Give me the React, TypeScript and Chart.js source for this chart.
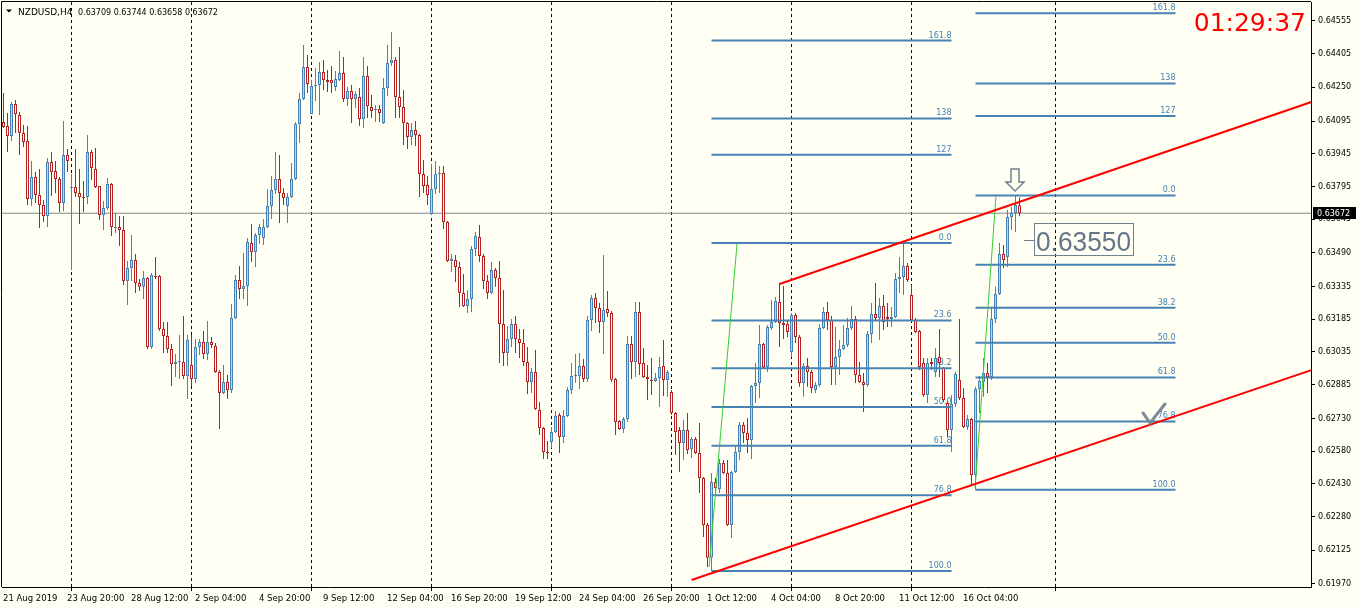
import React, { useEffect, useRef } from "react";
import { Chart, registerables } from "chart.js";

Chart.register(...registerables);

const symbolTitle = "NZDUSD,H4";
const timerText = "01:29:37";
const priceLabelText = "0.63550";
const priceLabelValue = 0.6355;
const bidPrice = 0.63672;

const opens = [
  0.64091,0.64073,0.64027,0.64174,0.64123,0.64040,0.64004,0.63737,0.63838,0.63756,
  0.63710,0.63659,0.63907,0.63866,0.63829,0.63719,0.63939,0.63788,0.63793,0.63765,
  0.63747,0.63747,0.63953,0.63875,0.63797,0.63664,0.63696,0.63806,0.63604,0.63609,
  0.63595,0.63361,0.63421,0.63457,0.63352,0.63334,0.63375,0.63058,0.63384,0.63384,
  0.63141,0.63108,0.63049,0.62980,0.62989,0.62989,0.62925,0.62975,0.62911,0.63058,
  0.63081,0.63026,0.63081,0.63063,0.62943,0.62847,0.62897,0.62861,0.63191,0.63366,
  0.63324,0.63338,0.63535,0.63494,0.63572,0.63558,0.63609,0.63705,0.63779,0.63829,
  0.63765,0.63705,0.63747,0.63829,0.64082,0.64197,0.64343,0.64128,0.64256,0.64261,
  0.64320,0.64284,0.64284,0.64252,0.64284,0.64316,0.64197,0.64233,0.64197,0.64206,
  0.64105,0.64302,0.64160,0.64146,0.64151,0.64086,0.64247,0.64362,0.64376,0.64206,
  0.64160,0.64086,0.64022,0.64054,0.64031,0.63852,0.63802,0.63668,0.63783,0.63852,
  0.63857,0.63632,0.63453,0.63457,0.63425,0.63306,0.63246,0.63278,0.63508,0.63563,
  0.63476,0.63361,0.63306,0.63412,0.63375,0.63163,0.63030,0.63095,0.63163,0.63095,
  0.63076,0.62989,0.62897,0.62943,0.62769,0.62686,0.62576,0.62622,0.62668,0.62746,
  0.62645,0.62741,0.62861,0.62925,0.62925,0.62971,0.62911,0.63182,0.63283,0.63237,
  0.63173,0.63232,0.63214,0.62911,0.62718,0.62682,0.62727,0.63072,0.62989,0.63219,
  0.62984,0.62920,0.62906,0.62902,0.62916,0.62971,0.62906,0.62851,0.62755,0.62677,
  0.62617,0.62677,0.62590,0.62636,0.62571,0.62456,0.62241,0.62090,0.62438,0.62406,
  0.62525,0.62479,0.62241,0.62484,0.62576,0.62700,0.62663,0.62631,0.62879,0.62893,
  0.63072,0.62966,0.63145,0.63173,0.63264,0.63168,0.63163,0.63035,0.63205,0.63104,
  0.62893,0.62971,0.62943,0.62861,0.62884,0.63145,0.63219,0.63182,0.62966,0.63012,
  0.63049,0.63067,0.63145,0.63187,0.62929,0.62897,0.62884,0.63118,0.63209,0.63191,
  0.63246,0.63196,0.63187,0.63196,0.63370,0.63379,0.63430,0.63297,0.63182,0.63131,
  0.62984,0.62838,0.62989,0.62943,0.63012,0.62961,0.62801,0.62677,0.62796,0.62906,
  0.62824,0.62691,0.62727,0.62470,0.62865,0.62897,0.62939,0.62920,0.63187,0.63301,
  0.63485,0.63471,0.63655,0.63673,0.63709,
];

const highs = [
  0.64224,0.64132,0.64183,0.64192,0.64137,0.64077,0.64073,0.63912,0.63861,0.63875,
  0.63733,0.63926,0.63953,0.63912,0.63838,0.64096,0.63967,0.63852,0.63967,0.63875,
  0.63820,0.64031,0.63962,0.63972,0.63797,0.63728,0.63834,0.63811,0.63673,0.63659,
  0.63659,0.63453,0.63572,0.63485,0.63370,0.63407,0.63379,0.63398,0.63471,0.63389,
  0.63173,0.63173,0.63072,0.63026,0.63113,0.63200,0.63113,0.63113,0.63095,0.63095,
  0.63131,0.63177,0.63104,0.63076,0.62952,0.62975,0.62929,0.63255,0.63389,0.63430,
  0.63490,0.63558,0.63623,0.63581,0.63623,0.63646,0.63783,0.63843,0.63953,0.63939,
  0.63788,0.63765,0.63903,0.64091,0.64224,0.64444,0.64398,0.64284,0.64339,0.64366,
  0.64376,0.64330,0.64348,0.64325,0.64417,0.64389,0.64252,0.64261,0.64233,0.64247,
  0.64389,0.64348,0.64215,0.64169,0.64169,0.64293,0.64444,0.64504,0.64389,0.64435,
  0.64238,0.64091,0.64086,0.64096,0.64036,0.63916,0.63843,0.63898,0.63912,0.63889,
  0.63889,0.63636,0.63485,0.63480,0.63448,0.63393,0.63320,0.63522,0.63586,0.63618,
  0.63485,0.63389,0.63448,0.63421,0.63453,0.63320,0.63154,0.63187,0.63200,0.63141,
  0.63141,0.63058,0.62962,0.63044,0.62805,0.62691,0.62626,0.62691,0.62764,0.62755,
  0.62769,0.62874,0.62984,0.63026,0.63030,0.63003,0.63200,0.63297,0.63306,0.63260,
  0.63480,0.63315,0.63223,0.62916,0.62723,0.62737,0.63108,0.63108,0.63264,0.63264,
  0.63053,0.62975,0.63007,0.62939,0.63012,0.63090,0.62952,0.62861,0.62760,0.62691,
  0.62723,0.62755,0.62645,0.62645,0.62709,0.62461,0.62250,0.62480,0.62456,0.62544,
  0.62539,0.62539,0.62489,0.62604,0.62714,0.62714,0.62732,0.62884,0.62984,0.63159,
  0.63076,0.63159,0.63274,0.63287,0.63352,0.63338,0.63182,0.63214,0.63214,0.63113,
  0.62984,0.63007,0.62952,0.62897,0.63163,0.63242,0.63264,0.63200,0.63150,0.63090,
  0.63159,0.63191,0.63246,0.63200,0.62989,0.62939,0.63131,0.63260,0.63352,0.63283,
  0.63297,0.63260,0.63242,0.63398,0.63471,0.63535,0.63444,0.63343,0.63191,0.63136,
  0.63007,0.63007,0.63007,0.63053,0.63141,0.62966,0.62810,0.62838,0.62943,0.63187,
  0.62870,0.62746,0.62732,0.62875,0.62925,0.63007,0.62984,0.63242,0.63334,0.63535,
  0.63526,0.63687,0.63701,0.63756,0.63744,
];

const lows = [
  0.64063,0.63953,0.64004,0.64040,0.63939,0.63976,0.63710,0.63705,0.63719,0.63604,
  0.63632,0.63609,0.63751,0.63765,0.63678,0.63682,0.63861,0.63412,0.63747,0.63623,
  0.63678,0.63714,0.63825,0.63788,0.63641,0.63595,0.63687,0.63568,0.63581,0.63522,
  0.63343,0.63251,0.63361,0.63306,0.63315,0.63278,0.63049,0.63049,0.63370,0.63131,
  0.63030,0.63030,0.62879,0.62920,0.62911,0.62911,0.62819,0.62879,0.62893,0.63021,
  0.63003,0.62998,0.63053,0.62939,0.62682,0.62842,0.62819,0.62847,0.63187,0.63278,
  0.63278,0.63246,0.63448,0.63425,0.63531,0.63526,0.63604,0.63646,0.63760,0.63627,
  0.63710,0.63627,0.63742,0.63825,0.63995,0.64192,0.64224,0.64128,0.64187,0.64123,
  0.64238,0.64229,0.64224,0.64233,0.64279,0.64183,0.64164,0.64086,0.64155,0.64073,
  0.64063,0.64109,0.64109,0.64091,0.64091,0.64082,0.64210,0.64348,0.64109,0.64109,
  0.63985,0.63967,0.63985,0.63981,0.63747,0.63765,0.63710,0.63664,0.63760,0.63765,
  0.63600,0.63448,0.63402,0.63356,0.63242,0.63242,0.63214,0.63219,0.63476,0.63448,
  0.63324,0.63278,0.63301,0.63334,0.62984,0.62971,0.62971,0.63058,0.63030,0.63007,
  0.62971,0.62842,0.62847,0.62769,0.62654,0.62544,0.62544,0.62594,0.62663,0.62571,
  0.62617,0.62737,0.62842,0.62893,0.62865,0.62897,0.62897,0.63131,0.63168,0.63122,
  0.63026,0.63196,0.62897,0.62654,0.62677,0.62663,0.62714,0.62911,0.62920,0.62929,
  0.62916,0.62815,0.62838,0.62897,0.62782,0.62833,0.62829,0.62746,0.62562,0.62484,
  0.62539,0.62567,0.62548,0.62567,0.62388,0.62186,0.62048,0.62030,0.62388,0.62388,
  0.62475,0.62236,0.62181,0.62479,0.62539,0.62617,0.62571,0.62544,0.62801,0.62824,
  0.62961,0.62943,0.63136,0.63168,0.63058,0.63095,0.63104,0.63012,0.63076,0.62875,
  0.62829,0.62875,0.62847,0.62847,0.62875,0.63141,0.63136,0.62884,0.62884,0.62929,
  0.63044,0.63058,0.63136,0.62893,0.62893,0.62760,0.62875,0.63076,0.63182,0.63090,
  0.63136,0.63150,0.63150,0.63191,0.63306,0.63297,0.63356,0.63173,0.63122,0.62952,
  0.62829,0.62801,0.62952,0.62920,0.62920,0.62805,0.62645,0.62576,0.62782,0.62815,
  0.62686,0.62677,0.62424,0.62402,0.62755,0.62829,0.62847,0.62906,0.63168,0.63297,
  0.63421,0.63425,0.63595,0.63586,0.63658,
];

const closes = [
  0.64068,0.64027,0.64174,0.64128,0.64040,0.63999,0.63737,0.63838,0.63756,0.63710,
  0.63659,0.63907,0.63861,0.63829,0.63719,0.63939,0.63912,0.63793,0.63765,0.63747,
  0.63742,0.63953,0.63880,0.63793,0.63664,0.63696,0.63806,0.63609,0.63609,0.63595,
  0.63361,0.63421,0.63457,0.63352,0.63334,0.63375,0.63058,0.63389,0.63379,0.63141,
  0.63108,0.63049,0.62980,0.62989,0.62994,0.62925,0.63090,0.62911,0.63058,0.63081,
  0.63026,0.63081,0.63067,0.62943,0.62847,0.62897,0.62861,0.63191,0.63366,0.63324,
  0.63338,0.63540,0.63494,0.63572,0.63609,0.63609,0.63705,0.63779,0.63829,0.63765,
  0.63742,0.63747,0.63829,0.64082,0.64197,0.64343,0.64265,0.64256,0.64261,0.64320,
  0.64284,0.64275,0.64270,0.64288,0.64316,0.64197,0.64233,0.64197,0.64219,0.64105,
  0.64302,0.64164,0.64141,0.64151,0.64132,0.64247,0.64362,0.64376,0.64206,0.64160,
  0.64086,0.64022,0.64054,0.64031,0.63852,0.63797,0.63756,0.63783,0.63852,0.63857,
  0.63632,0.63453,0.63462,0.63425,0.63306,0.63246,0.63278,0.63508,0.63568,0.63476,
  0.63361,0.63306,0.63412,0.63375,0.63163,0.63030,0.63095,0.63163,0.63095,0.63076,
  0.62989,0.62897,0.62943,0.62773,0.62686,0.62576,0.62571,0.62668,0.62741,0.62645,
  0.62741,0.62861,0.62925,0.62929,0.62971,0.62911,0.63182,0.63283,0.63237,0.63173,
  0.63228,0.63214,0.62907,0.62714,0.62682,0.62727,0.63072,0.62989,0.63219,0.62980,
  0.62920,0.62911,0.62902,0.62916,0.62966,0.62906,0.62943,0.62755,0.62668,0.62617,
  0.62677,0.62585,0.62636,0.62571,0.62456,0.62241,0.62090,0.62438,0.62411,0.62525,
  0.62479,0.62241,0.62484,0.62576,0.62700,0.62663,0.62631,0.62879,0.62893,0.63072,
  0.62966,0.63150,0.63173,0.63269,0.63168,0.63159,0.63127,0.63205,0.63104,0.62893,
  0.62971,0.62943,0.62870,0.62884,0.63145,0.63219,0.63182,0.62966,0.63012,0.63049,
  0.63067,0.63145,0.63187,0.62929,0.62897,0.62884,0.63118,0.63209,0.63191,0.63246,
  0.63173,0.63187,0.63196,0.63370,0.63379,0.63430,0.63366,0.63182,0.63127,0.62966,
  0.62838,0.62984,0.62980,0.63007,0.62984,0.62815,0.62677,0.62796,0.62934,0.62824,
  0.62691,0.62727,0.62470,0.62865,0.62902,0.62939,0.62920,0.63187,0.63301,0.63485,
  0.63457,0.63655,0.63673,0.63710,0.63672,
];

const xTickIndex = [0, 16, 32, 48, 64, 80, 96, 112, 128, 144, 160, 176, 192, 208, 224, 240];
const xTickLabels = [
  "21 Aug 2019", "23 Aug 20:00", "28 Aug 12:00", "2 Sep 04:00", "4 Sep 20:00", "9 Sep 12:00",
  "12 Sep 04:00", "16 Sep 20:00", "19 Sep 12:00", "24 Sep 04:00", "26 Sep 20:00", "1 Oct 12:00",
  "4 Oct 04:00", "8 Oct 20:00", "11 Oct 12:00", "16 Oct 04:00",
];
const weekGridIndex = [17, 47, 77, 107, 137, 167, 197, 227, 263];
const yTickValues = [
  0.6197, 0.62125, 0.6228, 0.6243, 0.6258, 0.6273, 0.62885, 0.63035, 0.63185,
  0.63335, 0.6349, 0.63645, 0.63795, 0.63945, 0.64095, 0.6425, 0.64405, 0.64555,
];

const fibLevelNames = ["0.0", "23.6", "38.2", "50.0", "61.8", "76.8", "100.0", "127", "138", "161.8"];
const fibLeftPrices = [0.63535, 0.6318, 0.6296, 0.62783, 0.62605, 0.62377, 0.6203, 0.63941, 0.64107, 0.64465];
const fibLeftSpan = [177, 237];
const fibRightPrices = [0.63754, 0.63435, 0.63238, 0.63078, 0.62918, 0.62716, 0.62402, 0.64119, 0.64268, 0.6459];
const fibRightSpan = [243, 293];

const channelTop = [{ x: 194, y: 0.63347 }, { x: 327, y: 0.64183 }];
const channelBottom = [{ x: 172, y: 0.61988 }, { x: 327, y: 0.62952 }];
const swingLeft = [{ x: 176.4, y: 0.62048 }, { x: 183.4, y: 0.63535 }];
const swingRight = [{ x: 242.9, y: 0.62411 }, { x: 248.1, y: 0.63747 }];
const arrowAnchor = { x: 253, y: 0.63774 };
const checkAnchor = { x: 287, y: 0.62716 };
const labelAnchor = { x: 257.6, y: priceLabelValue };

const X_MIN = -0.375;
const X_MAX = 326.875;
const Y_MIN = 0.619561;
const Y_MAX = 0.646418;

const BG = "#FFFFF3";
const BULL = "#4682B4";
const BULL_FILL = "#BBD5EE";
const BEAR = "#B22222";
const FIB = "#4682B4";
const GREY = "#708090";

const isUp = (i: number) => closes[i] >= opens[i];

const overlayPlugin = {
  id: "mt4overlay",
  beforeDraw(chart: any) {
    const { ctx, width, height } = chart;
    ctx.save();
    ctx.fillStyle = BG;
    ctx.fillRect(0, 0, width, height);
    ctx.restore();
  },
  beforeDatasetsDraw(chart: any) {
    const { ctx, chartArea: a, scales } = chart;
    const xs = scales.x;
    const ys = scales.y;
    ctx.save();
    ctx.strokeStyle = "#000";
    ctx.lineWidth = 1;
    ctx.setLineDash([3, 3]);
    weekGridIndex.forEach((g) => {
      const px = Math.floor(xs.getPixelForValue(g)) + 0.5;
      ctx.beginPath();
      ctx.moveTo(px, a.top);
      ctx.lineTo(px, a.bottom);
      ctx.stroke();
    });
    ctx.setLineDash([]);
    ctx.fillStyle = FIB;
    ctx.font = "8px 'DejaVu Sans'";
    ctx.textAlign = "right";
    ctx.textBaseline = "alphabetic";
    const sets: [number[], number[]][] = [
      [fibLeftPrices, fibLeftSpan],
      [fibRightPrices, fibRightSpan],
    ];
    sets.forEach(([prices, span]) => {
      const xr = xs.getPixelForValue(span[1]);
      prices.forEach((p, k) => {
        ctx.fillText(fibLevelNames[k], xr, ys.getPixelForValue(p) - 3);
      });
    });
    ctx.restore();
  },
  afterDatasetsDraw(chart: any) {
    const { ctx, chartArea: a, scales } = chart;
    const xs = scales.x;
    const ys = scales.y;
    ctx.save();

    // frame
    ctx.strokeStyle = "#000";
    ctx.lineWidth = 1;
    ctx.beginPath();
    ctx.moveTo(a.left - 0.5, a.bottom);
    ctx.lineTo(a.left - 0.5, a.top - 0.5);
    ctx.lineTo(a.right, a.top - 0.5);
    ctx.stroke();

    // header
    ctx.fillStyle = "#000";
    ctx.beginPath();
    ctx.moveTo(6, 9.5);
    ctx.lineTo(12, 9.5);
    ctx.lineTo(9, 12.5);
    ctx.closePath();
    ctx.fill();
    ctx.textAlign = "left";
    ctx.textBaseline = "alphabetic";
    ctx.font = "9px 'DejaVu Sans'";
    ctx.fillText(symbolTitle, 18, 14.5);
    const L = closes.length - 1;
    ctx.font = "8px 'DejaVu Sans'";
    ctx.fillText(
      [opens[L], highs[L], lows[L], closes[L]].map((v) => v.toFixed(5)).join(" "),
      78,
      14.5
    );

    // timer
    ctx.fillStyle = "#FF0000";
    ctx.font = "25px 'DejaVu Sans'";
    ctx.textAlign = "right";
    ctx.fillText(timerText, a.right - 5, 31);

    // price label box
    const lx = xs.getPixelForValue(labelAnchor.x);
    const ly = ys.getPixelForValue(labelAnchor.y);
    ctx.strokeStyle = GREY;
    ctx.lineWidth = 1;
    ctx.beginPath();
    ctx.moveTo(Math.round(lx) - 10, Math.round(ly) + 0.5);
    ctx.lineTo(Math.round(lx), Math.round(ly) + 0.5);
    ctx.stroke();
    ctx.strokeRect(Math.round(lx) + 0.5, Math.round(ly) - 16.5, 99, 32);
    ctx.fillStyle = "#66768A";
    ctx.font = "28px 'Liberation Sans'";
    ctx.textAlign = "left";
    ctx.fillText(priceLabelText, Math.round(lx) + 2, Math.round(ly) + 10.5, 95);

    // arrow
    const tx = xs.getPixelForValue(arrowAnchor.x) - 0.5;
    const ty = ys.getPixelForValue(arrowAnchor.y);
    ctx.beginPath();
    ctx.moveTo(tx - 4, ty - 22);
    ctx.lineTo(tx + 4, ty - 22);
    ctx.lineTo(tx + 4, ty - 9);
    ctx.lineTo(tx + 9, ty - 9);
    ctx.lineTo(tx, ty);
    ctx.lineTo(tx - 9, ty - 9);
    ctx.lineTo(tx - 4, ty - 9);
    ctx.closePath();
    ctx.fillStyle = BG;
    ctx.fill();
    ctx.strokeStyle = GREY;
    ctx.lineWidth = 1.5;
    ctx.stroke();

    // check mark
    const cx = xs.getPixelForValue(checkAnchor.x) - 1.5;
    const cy = ys.getPixelForValue(checkAnchor.y) + 1.5;
    ctx.strokeStyle = "#7D8B99";
    ctx.lineWidth = 3;
    ctx.lineCap = "round";
    ctx.beginPath();
    ctx.moveTo(cx - 7, cy - 10);
    ctx.lineTo(cx, cy);
    ctx.lineTo(cx + 15, cy - 19);
    ctx.stroke();
    ctx.restore();
  },
  afterDraw(chart: any) {
    const { ctx, chartArea: a, scales, width } = chart;
    const xs = scales.x;
    const ys = scales.y;
    ctx.save();
    // x labels
    ctx.fillStyle = "#000";
    ctx.font = "8.5px 'DejaVu Sans'";
    ctx.textAlign = "left";
    ctx.textBaseline = "alphabetic";
    xTickIndex.forEach((t, k) => {
      ctx.fillText(xTickLabels[k], Math.floor(xs.getPixelForValue(t)), a.bottom + 14);
    });
    ctx.strokeStyle = "#000";
    ctx.lineWidth = 1;
    weekGridIndex.forEach((g) => {
      const px = Math.floor(xs.getPixelForValue(g)) + 0.5;
      if (px < a.right) {
        ctx.beginPath();
        ctx.moveTo(px, a.bottom);
        ctx.lineTo(px, a.bottom + 4);
        ctx.stroke();
      }
    });
    // bid label
    const by = Math.round(ys.getPixelForValue(bidPrice));
    ctx.fillStyle = "#000";
    ctx.fillRect(a.right + 2, by - 6, width - a.right - 4, 12);
    ctx.fillStyle = "#FFFFFF";
    ctx.font = "8px 'DejaVu Sans'";
    ctx.textBaseline = "middle";
    ctx.fillText(bidPrice.toFixed(5), a.right + 6, by + 0.5);
    ctx.restore();
  },
};

function lineDataset(data: { x: number; y: number }[], color: string, w: number, order: number) {
  return {
    type: "line" as const,
    data,
    borderColor: color,
    backgroundColor: color,
    borderWidth: w,
    pointRadius: 0,
    fill: false,
    tension: 0,
    order,
  };
}

export default function App() {
  const ref = useRef<HTMLCanvasElement>(null);
  useEffect(() => {
    document.body.style.margin = "0";
    document.body.style.background = BG;
    const canvas = ref.current;
    if (!canvas) return;
    const idx = opens.map((_, i) => i);
    const bodyData = idx.map((i) => ({ x: i, y: [opens[i], closes[i]] }));
    const wickData = idx.map((i) => ({ x: i, y: [lows[i], highs[i]] }));

    const fibDatasets: any[] = [];
    const fibSets: [number[], number[]][] = [
      [fibLeftPrices, fibLeftSpan],
      [fibRightPrices, fibRightSpan],
    ];
    fibSets.forEach(([prices, span]) => {
      prices.forEach((p) => {
        fibDatasets.push(
          lineDataset([{ x: span[0], y: p }, { x: span[1], y: p }], FIB, 2, 2)
        );
      });
    });

    const chart = new Chart(canvas, {
      type: "bar",
      data: {
        datasets: [
          lineDataset(channelTop, "#FF0000", 2, 0),
          lineDataset(channelBottom, "#FF0000", 2, 0),
          lineDataset(swingLeft, "#32CD32", 1, 1),
          lineDataset(swingRight, "#32CD32", 1, 1),
          ...fibDatasets,
          {
            type: "bar",
            data: bodyData as any,
            grouped: false,
            barThickness: 3,
            minBarLength: 1,
            borderWidth: 1,
            borderSkipped: false,
            inflateAmount: 0,
            backgroundColor: (c: any) => (isUp(c.dataIndex) ? BULL_FILL : BG),
            borderColor: (c: any) => (isUp(c.dataIndex) ? BULL : BEAR),
            order: 3,
          } as any,
          {
            type: "bar",
            data: wickData as any,
            grouped: false,
            barThickness: 1,
            minBarLength: 1,
            borderWidth: 0,
            inflateAmount: 0,
            backgroundColor: (c: any) => (isUp(c.dataIndex) ? BULL : BEAR),
            order: 4,
          } as any,
          lineDataset([{ x: X_MIN, y: bidPrice }, { x: X_MAX, y: bidPrice }], "#7A8794", 1, 5),
        ],
      },
      options: {
        responsive: false,
        maintainAspectRatio: false,
        animation: false,
        events: [],
        layout: { padding: { left: 2, top: 2, right: 0, bottom: 0 } },
        plugins: { legend: { display: false }, tooltip: { enabled: false } },
        scales: {
          x: {
            type: "linear",
            min: X_MIN,
            max: X_MAX,
            offset: false,
            ticks: { display: false },
            grid: { display: false },
            border: { display: true, color: "#000", width: 1 },
            afterFit: (s: any) => {
              s.height = 21;
              s.paddingLeft = 0;
              s.paddingRight = 0;
            },
          },
          y: {
            type: "linear",
            position: "right",
            min: Y_MIN,
            max: Y_MAX,
            afterBuildTicks: (s: any) => {
              s.ticks = yTickValues.map((v) => ({ value: v }));
            },
            afterFit: (s: any) => {
              s.width = 47;
              s.paddingTop = 0;
              s.paddingBottom = 0;
            },
            ticks: {
              color: "#000",
              font: { family: "'DejaVu Sans'", size: 8 },
              padding: 3,
              autoSkip: false,
              callback: (v: any) => Number(v).toFixed(5),
            },
            grid: { drawOnChartArea: false, drawTicks: true, tickLength: 4, color: "#000" },
            border: { display: true, color: "#000", width: 1 },
          },
        },
      } as any,
      plugins: [overlayPlugin],
    });
    return () => chart.destroy();
  }, []);
  return (
    <div style={{ width: 1358, height: 608 }}>
      <canvas ref={ref} width={1358} height={608} style={{ display: "block", width: 1358, height: 608 }} />
    </div>
  );
}
